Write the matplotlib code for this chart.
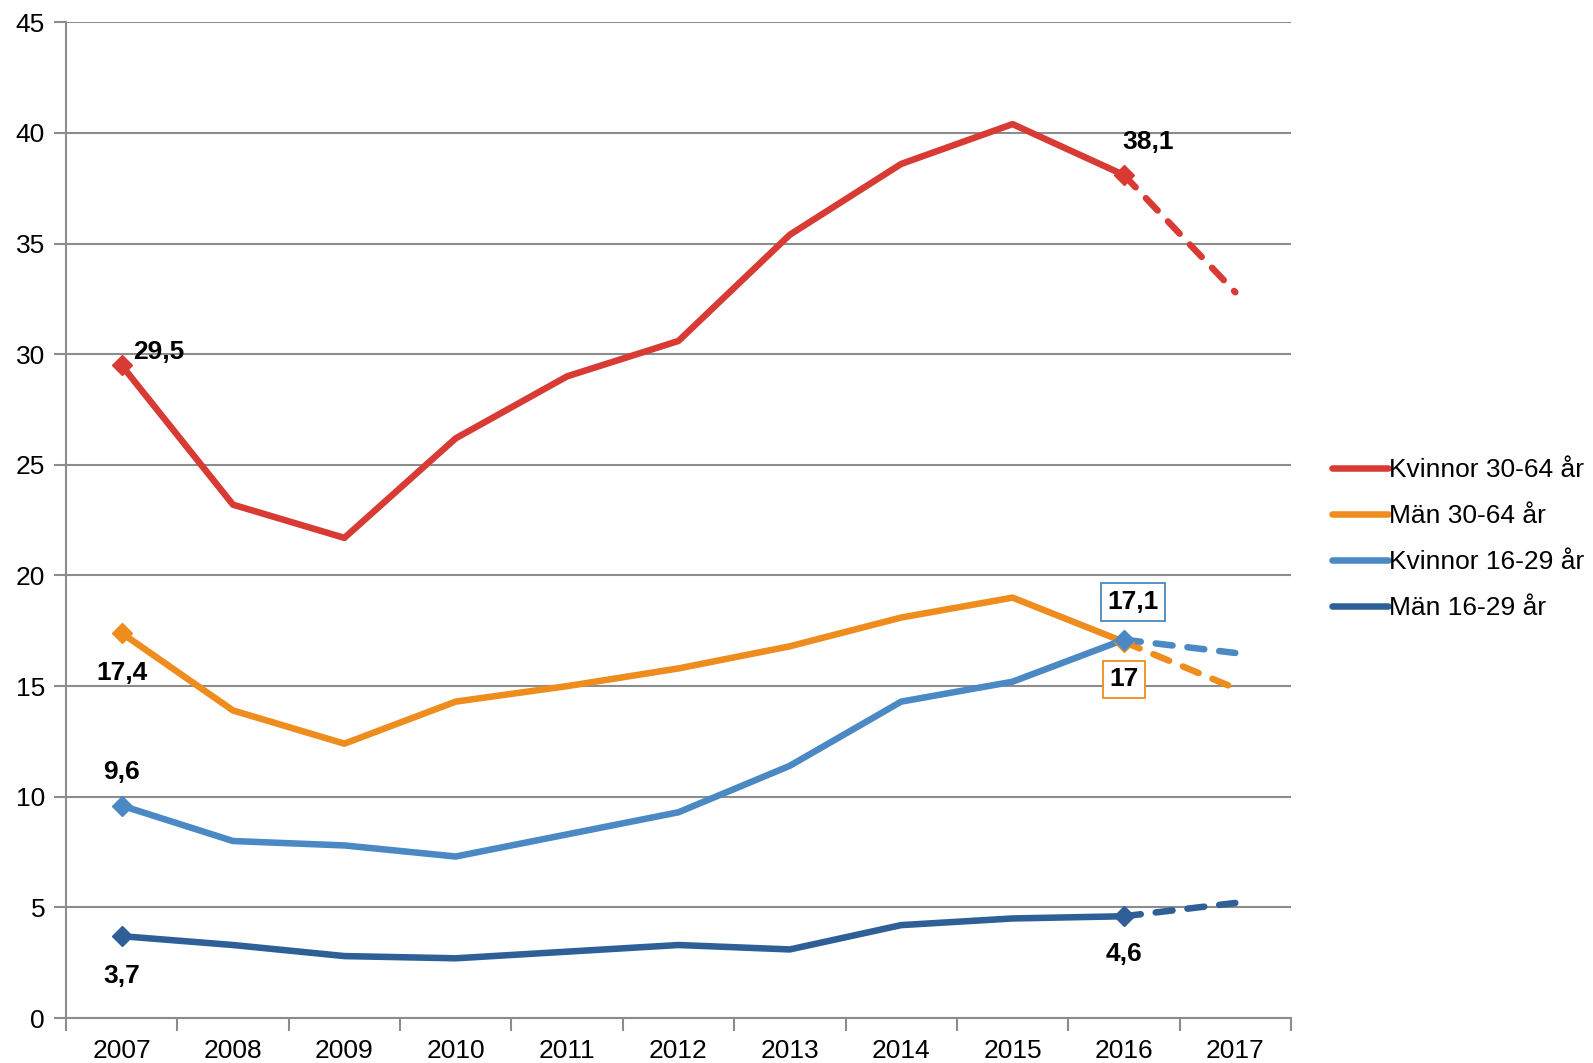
import matplotlib.pyplot as plt
from matplotlib.ticker import FixedLocator

plt.rcParams['font.family'] = ['Liberation Sans', 'DejaVu Sans']

years = [2007, 2008, 2009, 2010, 2011, 2012, 2013, 2014, 2015, 2016, 2017]

# observed values 2007-2016, last value is the 2017 forecast (dashed)
kvinnor_30_64 = [29.5, 23.2, 21.7, 26.2, 29.0, 30.6, 35.4, 38.6, 40.4, 38.1, 32.8]
man_30_64 = [17.4, 13.9, 12.4, 14.3, 15.0, 15.8, 16.8, 18.1, 19.0, 17.0, 14.9]
kvinnor_16_29 = [9.6, 8.0, 7.8, 7.3, 8.3, 9.3, 11.4, 14.3, 15.2, 17.1, 16.5]
man_16_29 = [3.7, 3.3, 2.8, 2.7, 3.0, 3.3, 3.1, 4.2, 4.5, 4.6, 5.2]

labels = ["Kvinnor 30-64 år", "Män 30-64 år", "Kvinnor 16-29 år", "Män 16-29 år"]
colors = ["#D83A34", "#EE8C1E", "#4A89C4", "#2F5F97"]
series = [kvinnor_30_64, man_30_64, kvinnor_16_29, man_16_29]

fig = plt.figure(figsize=(15.93, 10.63), dpi=100)
ax = fig.add_axes([0.0414, 0.0423, 0.769, 0.9367])

x = list(range(len(years)))
lw = 4.7
for vals, col, lab in zip(series, colors, labels):
    ax.plot(x[:10], vals[:10], color=col, lw=lw, label=lab, solid_capstyle='round',
            solid_joinstyle='round', zorder=3)
    ax.plot(x[9:], vals[9:], color=col, lw=lw, dashes=(2.6, 2.3), dash_capstyle='round',
            zorder=3)
    ax.plot([x[0], x[9]], [vals[0], vals[9]], linestyle='none', marker='D', ms=10,
            color=col, zorder=4)

fs = 19
bold = dict(fontsize=fs, fontweight='bold', color='black', zorder=5)
ax.text(x[0] + 0.1, kvinnor_30_64[0] + 0.6, "29,5", ha='left', va='center', **bold)
ax.text(x[9] + 0.22, kvinnor_30_64[9] + 1.5, "38,1", ha='center', va='center', **bold)
ax.text(x[0], man_30_64[0] - 1.8, "17,4", ha='center', va='center', **bold)
ax.text(x[0], kvinnor_16_29[0] + 1.5, "9,6", ha='center', va='center', **bold)
ax.text(x[0], man_16_29[0] - 1.8, "3,7", ha='center', va='center', **bold)
ax.text(x[9], man_16_29[9] - 1.7, "4,6", ha='center', va='center', **bold)
ax.text(x[9] + 0.08, kvinnor_16_29[9] + 1.7, "17,1", ha='center', va='center',
        bbox=dict(boxstyle='square,pad=0.25', fc='white', ec=colors[2], lw=1.3), **bold)
ax.text(x[9], man_30_64[9] - 1.7, "17", ha='center', va='center',
        bbox=dict(boxstyle='square,pad=0.25', fc='white', ec=colors[1], lw=1.3), **bold)

ax.set_xlim(-0.5, len(years) - 0.5)
ax.set_ylim(0, 45)
ax.set_yticks(range(0, 46, 5))
ax.set_xticks(x)
ax.set_xticklabels([str(y) for y in years])
ax.xaxis.set_minor_locator(FixedLocator([i - 0.5 for i in range(len(years) + 1)]))
ax.tick_params(axis='x', which='major', length=0, labelsize=fs, pad=15)
ax.tick_params(axis='x', which='minor', length=9, width=1.5, color='#8c8c8c', direction='out')
ax.tick_params(axis='y', length=9, width=1.5, color='#8c8c8c', labelsize=fs, pad=6)

ax.grid(axis='y', color='#8c8c8c', lw=1.5, zorder=0)
for s in ['top', 'right']:
    ax.spines[s].set_visible(False)
for s in ['left', 'bottom']:
    ax.spines[s].set_color('#8c8c8c')
    ax.spines[s].set_linewidth(1.5)

leg = ax.legend(loc='center left', bbox_to_anchor=(1.025, 0.481), frameon=False,
                prop={'size': 19}, handlelength=2.1, handletextpad=0.05, labelspacing=0.84,
                borderaxespad=0)
for h in leg.get_lines():
    h.set_linewidth(lw)
    h.set_solid_capstyle('round')

fig.savefig("out.png", dpi=100)
